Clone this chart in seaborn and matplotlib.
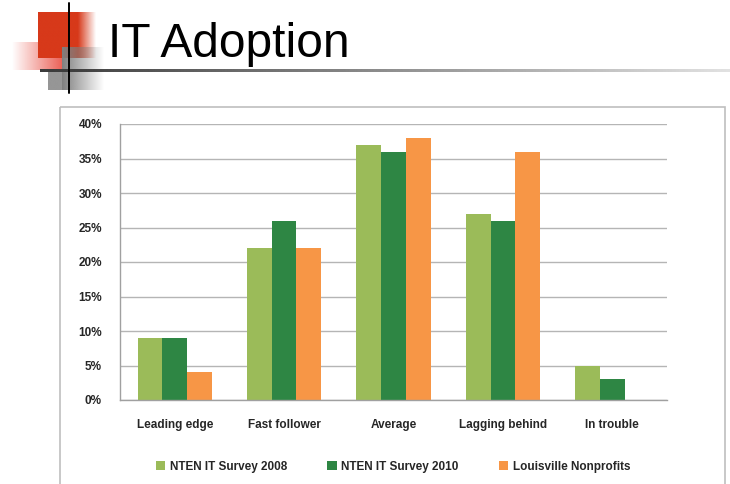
import numpy as np
import pandas as pd
import matplotlib
matplotlib.use("Agg")
import matplotlib.pyplot as plt
import matplotlib.colors as mcolors
from matplotlib.patches import Rectangle
from matplotlib.ticker import PercentFormatter, FixedLocator
import seaborn as sns

# Chart data
categories = ["Leading edge", "Fast follower", "Average", "Lagging behind", "In trouble"]
series = ["NTEN IT Survey 2008", "NTEN IT Survey 2010", "Louisville Nonprofits"]
nten_2008 = [9, 22, 37, 27, 5]
nten_2010 = [9, 26, 36, 26, 3]
louisville = [4, 22, 38, 36, 0]
colors = ["#9BBB59", "#2E8644", "#F79646"]

df = pd.DataFrame({
    "category": categories * 3,
    "series": [series[0]] * 5 + [series[1]] * 5 + [series[2]] * 5,
    "value": nten_2008 + nten_2010 + louisville,
})

sns.set_style("white")
plt.rcParams["font.family"] = ["Liberation Sans", "DejaVu Sans"]

W, H = 730, 484
fig = plt.figure(figsize=(7.3, 4.84), dpi=100)

# Decoration layer in pixel coordinates
deco = fig.add_axes([0, 0, 1, 1], zorder=-1)
deco.set_xlim(0, W)
deco.set_ylim(H, 0)
deco.axis("off")


def grad(x0, x1, y0, y1, color, a0, a1):
    rgb = mcolors.to_rgb(color)
    img = np.zeros((1, 256, 4))
    img[..., :3] = rgb
    img[..., 3] = np.linspace(a0, a1, 256)
    deco.imshow(img, extent=(x0, x1, y1, y0), aspect="auto", interpolation="bilinear", zorder=1)


grad(12, 62, 42, 70, "#E8463A", 0.0, 0.85)
grad(38, 78, 12, 58, "#D7391A", 1.0, 1.0)
grad(78, 96, 12, 58, "#D7391A", 1.0, 0.0)
grad(48, 62, 70, 90, "#8A8A8A", 0.9, 0.9)
grad(62, 104, 47, 90, "#7F7F7F", 1.0, 0.0)
grad(40, W, 70, 72.5, "#3A3A3A", 1.0, 0.15)
deco.plot([69, 69], [3, 93], color="black", lw=1.4, zorder=3)

# Chart border box
deco.add_patch(Rectangle((60, 107), 665, 380, fill=False, edgecolor="#BFBFBF", lw=1.2, zorder=2))

fig.text(108 / W, 1 - 57 / H, "IT Adoption", fontsize=34.5, color="black",
         va="baseline", ha="left")

# Main plot
ax = fig.add_axes([120 / W, 1 - 400 / H, 547 / W, 276 / H])
sns.barplot(data=df, x="category", y="value", hue="series", palette=colors,
            width=0.68, saturation=1, linewidth=0, ax=ax, legend=True)

ax.set_ylim(0, 40)
ax.set_xlim(-0.5, 4.5)
ax.set_yticks(range(0, 41, 5))
ax.yaxis.set_major_formatter(PercentFormatter(decimals=0))
ax.grid(axis="y", color="#B5B5B5", lw=1)
ax.set_axisbelow(True)
ax.set_xlabel("")
ax.set_ylabel("")
for s in ["top", "right"]:
    ax.spines[s].set_visible(False)
for s in ["left", "bottom"]:
    ax.spines[s].set_color("#A0A0A0")
    ax.spines[s].set_linewidth(1)

ax.tick_params(axis="y", length=5, color="#A0A0A0", labelsize=8.5, pad=8)
ax.tick_params(axis="x", length=0, labelsize=8.5, pad=14)
ax.xaxis.set_minor_locator(FixedLocator(np.arange(-0.5, 5, 1)))
ax.tick_params(axis="x", which="minor", length=5, color="#A0A0A0")
for lab in ax.get_xticklabels() + ax.get_yticklabels():
    lab.set_fontweight("bold")

handles, labels = ax.get_legend_handles_labels()
ax.legend_.remove()
fig.legend(handles, labels, loc="center", bbox_to_anchor=(393 / W, 1 - 467 / H),
           ncol=3, frameon=False, handlelength=0.8, handleheight=0.8,
           handletextpad=0.4, columnspacing=3.4, prop={"weight": "bold", "size": 8.5})

fig.savefig("out.png", dpi=100, facecolor="white")
